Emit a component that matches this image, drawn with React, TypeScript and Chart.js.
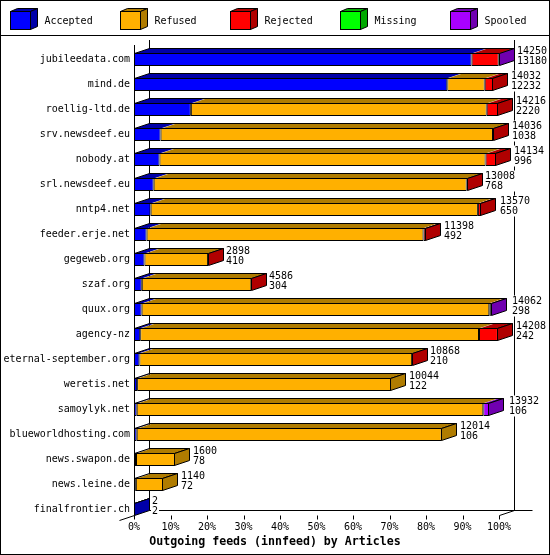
import React, { useEffect, useRef } from 'react';
import { Chart, registerables } from 'chart.js';

Chart.register(...registerables);

const hosts = [
  'jubileedata.com', 'mind.de', 'roellig-ltd.de', 'srv.newsdeef.eu', 'nobody.at',
  'srl.newsdeef.eu', 'nntp4.net', 'feeder.erje.net', 'gegeweb.org', 'szaf.org',
  'quux.org', 'agency-nz', 'eternal-september.org', 'weretis.net', 'samoylyk.net',
  'blueworldhosting.com', 'news.swapon.de', 'news.leine.de', 'finalfrontier.ch',
];
const offered = [14250, 14032, 14216, 14036, 14134, 13008, 13570, 11398, 2898, 4586, 14062, 14208, 10868, 10044, 13932, 12014, 1600, 1140, 2];
const accepted = [13180, 12232, 2220, 1038, 996, 768, 650, 492, 410, 304, 298, 242, 210, 122, 106, 106, 78, 72, 2];
const refused = [0, 1460, 11550, 12977, 12730, 12221, 12776, 10810, 2482, 4276, 13573, 13228, 10648, 9922, 13531, 11908, 1522, 1068, 0];
const rejected = [1060, 340, 446, 12, 406, 10, 120, 90, 6, 6, 60, 738, 10, 0, 0, 0, 0, 0, 0];
const missing = [0, 0, 0, 0, 0, 0, 0, 0, 0, 0, 0, 0, 0, 0, 0, 0, 0, 0, 0];
const spooled = [10, 0, 0, 0, 0, 0, 0, 0, 0, 0, 10, 0, 0, 0, 234, 0, 0, 0, 0];
const seriesNames = ['Accepted', 'Refused', 'Rejected', 'Missing', 'Spooled'];
const xTicks = [0, 10, 20, 30, 40, 50, 60, 70, 80, 90, 100];
const title = 'Outgoing feeds (innfeed) by Articles';

const FRONT = ['#0000ff', '#ffb000', '#ff0000', '#00ff00', '#a800ff'];
const SHADE = ['#0000a8', '#b07c00', '#b00000', '#00a800', '#7000b0'];
const DX = 15;
const DY = 5;
const MONO = "'DejaVu Sans Mono', monospace";
const FONT = `10px ${MONO}`;

const maxOffered = Math.max(...offered);
const pct = (v: number) => (v ? (v / maxOffered) * 100 : null);

function poly(ctx: CanvasRenderingContext2D, pts: number[][], fill: string | null, stroke: boolean) {
  ctx.beginPath();
  ctx.moveTo(pts[0][0], pts[0][1]);
  for (let k = 1; k < pts.length; k++) ctx.lineTo(pts[k][0], pts[k][1]);
  ctx.closePath();
  if (fill) {
    ctx.fillStyle = fill;
    ctx.fill();
  }
  if (stroke) ctx.stroke();
}

const frame3d = {
  id: 'frame3d',
  beforeDraw(chart: any) {
    const { ctx, width, height } = chart;
    ctx.save();
    ctx.fillStyle = '#fff';
    ctx.fillRect(0, 0, width, height);
    ctx.restore();
  },
  beforeDatasetsDraw(chart: any) {
    const { ctx, chartArea: a } = chart;
    const xs = chart.scales.x;
    const x0 = Math.round(xs.getPixelForValue(0)) + 0.5;
    const x1 = Math.round(xs.getPixelForValue(100)) + 0.5;
    const top = Math.round(a.top) - 2;
    const floor = Math.round(a.bottom) - 7 + 0.5;
    ctx.save();
    ctx.strokeStyle = '#000';
    ctx.lineWidth = 1;
    ctx.beginPath();
    ctx.moveTo(x0, top);
    ctx.lineTo(x0, floor);
    ctx.moveTo(x0 + DX, top - DY);
    ctx.lineTo(x0 + DX, floor - DY);
    ctx.moveTo(x1 + DX, top - DY);
    ctx.lineTo(x1 + DX, floor - DY);
    ctx.moveTo(x0 + DX, floor - DY);
    ctx.lineTo(x1 + DX + 18, floor - DY);
    ctx.moveTo(x1, floor);
    ctx.lineTo(x1 + DX, floor - DY);
    ctx.moveTo(x0 - DX, floor + DY);
    ctx.lineTo(x0, floor);
    xTicks.forEach((t) => {
      const px = Math.round(xs.getPixelForValue(t)) + 0.5;
      ctx.moveTo(px, floor);
      ctx.lineTo(px, floor + 4);
    });
    ctx.stroke();
    ctx.restore();
  },
  afterDatasetsDraw(chart: any) {
    const { ctx } = chart;
    const xs = chart.scales.x;
    ctx.save();
    ctx.strokeStyle = '#000';
    ctx.lineWidth = 1;
    hosts.forEach((_, i) => {
      let last = -1;
      let first = -1;
      let top = 0;
      let bottom = 0;
      let left = 0;
      let right = 0;
      chart.data.datasets.forEach((ds: any, d: number) => {
        if (ds.data[i] == null) return;
        const el = chart.getDatasetMeta(d).data[i];
        const p = el.getProps(['x', 'y', 'base', 'height'], true);
        top = Math.round(p.y - p.height / 2) + 0.5;
        bottom = Math.round(p.y + p.height / 2) - 0.5;
        const bl = Math.round(p.base) + 0.5;
        const br = Math.round(p.x) - 0.5;
        if (first < 0) {
          first = d;
          left = bl;
        }
        poly(ctx, [[bl, top], [bl + DX, top - DY], [Math.max(br, bl) + DX, top - DY], [Math.max(br, bl), top]], SHADE[d], false);
        last = d;
        right = Math.max(br, bl);
      });
      if (last < 0) return;
      poly(ctx, [[left, top], [left + DX, top - DY], [right + DX, top - DY], [right, top]], null, true);
      poly(ctx, [[right, top], [right + DX, top - DY], [right + DX, bottom - DY], [right, bottom]], SHADE[last], true);

      const lx = Math.round(xs.getPixelForValue(pct(offered[i]))) + DX + 3;
      const cy = (top + bottom) / 2;
      ctx.font = FONT;
      const w = Math.max(ctx.measureText(String(offered[i])).width, ctx.measureText(String(accepted[i])).width);
      ctx.fillStyle = '#fff';
      ctx.fillRect(lx - 1, cy - 14, w + 2, 21);
      ctx.fillStyle = '#000';
      ctx.textAlign = 'left';
      ctx.textBaseline = 'middle';
      ctx.fillText(String(offered[i]), lx, cy - 8);
      ctx.fillText(String(accepted[i]), lx, cy + 2);
    });
    ctx.restore();
  },
  afterDraw(chart: any) {
    const { ctx, width, height } = chart;
    ctx.save();
    ctx.strokeStyle = '#000';
    ctx.lineWidth = 1;
    // legend
    seriesNames.forEach((name, k) => {
      const lx = 10.5 + 110 * k;
      const ty = 11.5;
      const by = 29.5;
      ctx.fillStyle = FRONT[k];
      ctx.fillRect(lx, ty, 20, by - ty);
      ctx.strokeRect(lx, ty, 20, by - ty);
      poly(ctx, [[lx, ty], [lx + 7, ty - 3], [lx + 27, ty - 3], [lx + 20, ty]], SHADE[k], true);
      poly(ctx, [[lx + 20, ty], [lx + 27, ty - 3], [lx + 27, by - 3], [lx + 20, by]], SHADE[k], true);
      ctx.fillStyle = '#000';
      ctx.font = FONT;
      ctx.textAlign = 'left';
      ctx.textBaseline = 'middle';
      ctx.fillText(name, lx + 34, 21);
    });
    ctx.beginPath();
    ctx.moveTo(0, 35.5);
    ctx.lineTo(width, 35.5);
    ctx.stroke();
    // title
    ctx.fillStyle = '#000';
    ctx.font = `bold 11.6px ${MONO}`;
    ctx.textAlign = 'center';
    ctx.textBaseline = 'middle';
    ctx.fillText(title, width / 2, 542);
    // outer border
    ctx.strokeRect(0.5, 0.5, width - 1, height - 1);
    ctx.restore();
  },
};

const seriesValues = [accepted, refused, rejected, missing, spooled];

export default function App() {
  const canvasRef = useRef<HTMLCanvasElement>(null);

  useEffect(() => {
    const chart = new Chart(canvasRef.current!, {
      type: 'bar',
      data: {
        labels: hosts,
        datasets: seriesNames.map((name, k) => ({
          label: name,
          data: seriesValues[k].map(pct),
          backgroundColor: FRONT[k],
          borderColor: '#000',
          borderWidth: 1,
          borderSkipped: false,
          inflateAmount: 0,
          barThickness: 13,
        })),
      },
      options: {
        indexAxis: 'y',
        animation: false,
        responsive: false,
        devicePixelRatio: 1,
        layout: { padding: { left: 0, right: 51, top: 47, bottom: 0 } },
        plugins: {
          legend: { display: false },
          tooltip: { enabled: false },
          title: { display: false },
        },
        scales: {
          x: {
            stacked: true,
            min: 0,
            max: 100,
            grid: { display: false, drawTicks: false },
            border: { display: false },
            afterBuildTicks: (s: any) => {
              s.ticks = xTicks.map((v) => ({ value: v }));
            },
            afterFit: (s: any) => {
              s.height = 33;
            },
            ticks: {
              autoSkip: false,
              maxRotation: 0,
              padding: -1,
              color: '#000',
              font: { family: MONO, size: 10 },
              callback: (v: any) => `${v}%`,
            },
          },
          y: {
            stacked: true,
            grid: { display: false, drawTicks: false },
            border: { display: false },
            afterFit: (s: any) => {
              s.width = 134;
            },
            ticks: {
              autoSkip: false,
              padding: 4,
              color: '#000',
              font: { family: MONO, size: 10 },
            },
          },
        },
      },
      plugins: [frame3d],
    } as any);
    return () => chart.destroy();
  }, []);

  return (
    <div style={{ position: 'absolute', left: 0, top: 0, width: 550, height: 555 }}>
      <canvas ref={canvasRef} width={550} height={555} />
    </div>
  );
}
